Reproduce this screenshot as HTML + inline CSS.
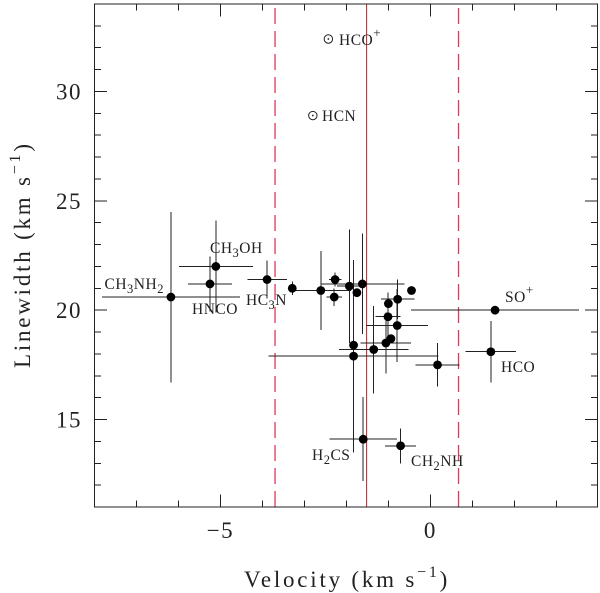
<!DOCTYPE html>
<html>
<head>
<meta charset="utf-8">
<style>
html,body{margin:0;padding:0;background:#fff;width:600px;height:593px;overflow:hidden}
svg{display:block}
text{font-family:"Liberation Serif",serif;fill:#222}
.lbl{font-size:15.5px;letter-spacing:.5px}
.tick{font-size:23px;letter-spacing:1.5px}
.title{font-size:23px;letter-spacing:2.78px}
</style>
</head>
<body>
<svg id="chart" width="600" height="593" viewBox="0 0 600 593" xmlns="http://www.w3.org/2000/svg">
  <g id="marks"></g>
  <g id="axes"></g>

  <text class="title" x="244" y="587">Velocity (km s<tspan dy="-10" font-size="16">−1</tspan><tspan dy="10">)</tspan></text>
  <text class="title" transform="translate(30,368) rotate(-90)" x="0" y="0">Linewidth (km s<tspan dy="-10" font-size="16">−1</tspan><tspan dy="10">)</tspan></text>

  <text class="lbl" x="104.5" y="289">CH<tspan dy="4" font-size="12.5">3</tspan><tspan dy="-4">NH</tspan><tspan dy="4" font-size="12.5">2</tspan></text>
  <text class="lbl" x="210" y="253">CH<tspan dy="4" font-size="12.5">3</tspan><tspan dy="-4">OH</tspan></text>
  <text class="lbl" x="192" y="314">HNCO</text>
  <text class="lbl" x="246" y="305">HC<tspan dy="4" font-size="12.5">3</tspan><tspan dy="-4">N</tspan></text>
  <text class="lbl" x="339" y="45">HCO<tspan dy="-8" font-size="13">+</tspan></text>
  <text class="lbl" x="322" y="121">HCN</text>
  <text class="lbl" x="505" y="302">SO<tspan dy="-8" font-size="13">+</tspan></text>
  <text class="lbl" x="501" y="372">HCO</text>
  <text class="lbl" x="312" y="460">H<tspan dy="4" font-size="12.5">2</tspan><tspan dy="-4">CS</tspan></text>
  <text class="lbl" x="411" y="466">CH<tspan dy="4" font-size="12.5">2</tspan><tspan dy="-4">NH</tspan></text>
</svg>
<script>
const velocity   = [-6.18,-5.25,-5.11,-3.89,-3.29,-2.61,-2.27,-2.29,-1.93,-1.75,-1.62,-1.83,-1.83,-1.35,-1.00,-1.01,-0.79,-0.78,-0.45,-0.94,-1.06,0.17,1.54,1.44,-1.60,-0.71];
const linewidth  = [20.6,21.2,22.0,21.4,21.0,20.9,21.4,20.6,21.1,20.8,21.2,18.4,17.9,18.2,20.3,19.7,19.3,20.5,20.9,18.7,18.5,17.5,20.0,18.1,14.1,13.8];
const velErr     = [1.64,0.52,0.88,0.47,0,0.72,0.15,0.19,0.3,0,1.0,0.1,2.02,0.83,0,0.3,0.73,0.4,0,0,0.6,0.52,2.0,0.6,0.8,0.37];
const widthErr   = [3.9,1.26,2.1,0.87,0.3,1.8,0.32,0.4,2.6,0,2.3,3.0,4.4,2.0,0,1.1,1.67,0.9,0,0,1.4,1.0,0,1.4,1.92,0.8];
const openVelocity  = [-2.8,-2.43];
const openLinewidth = [28.9,32.4];
const xMajorTicks = [-5,0];
const xMinorTicks = [-7,-6,-4,-3,-2,-1,1,2,3];
const yMajorTicks = [15,20,25,30];
const yMinorTicks = [12,13,14,16,17,18,19,21,22,23,24,26,27,28,29,31,32,33];
const systemicVelocity = [-1.52];
const boundaryVelocity = [-3.70,0.67];

const NS = 'http://www.w3.org/2000/svg';
const L = 94.5, R = 597.5, T = 4, B = 507;
const xMin = -8, xMax = 3.98, yMin = 11, yMax = 34;
function sx(v){ return L + (v - xMin) * (R - L) / (xMax - xMin); }
function sy(v){ return B - (v - yMin) * (B - T) / (yMax - yMin); }
const marks = document.getElementById('marks');
const axes = document.getElementById('axes');

function mk(parent, tag, attrs){
  const el = document.createElementNS(NS, tag);
  for (const k in attrs) el.setAttribute(k, attrs[k]);
  parent.appendChild(el);
  return el;
}
const ink = '#222';

systemicVelocity.forEach(function(v){
  const el = mk(marks, 'line', {x1:sx(v), x2:sx(v), y1:T, y2:B, stroke:'#c8323c', 'stroke-width':1.1});
  
  
});
boundaryVelocity.forEach(function(v){
  const el = mk(marks, 'line', {x1:sx(v), x2:sx(v), y1:B, y2:T, stroke:'#dc3a58', 'stroke-width':1.3, 'stroke-dasharray':'16 7'});
  
  
});

velocity.forEach(function(v, i){
  const w = linewidth[i];
  if (velErr[i] > 0) {
    const h = mk(marks, 'line', {x1:sx(v - velErr[i]), x2:sx(v + velErr[i]), y1:sy(w), y2:sy(w), stroke:ink, 'stroke-width':1, 'shape-rendering':'crispEdges'});
    
    
  }
  if (widthErr[i] > 0) {
    const e = mk(marks, 'line', {x1:sx(v), x2:sx(v), y1:sy(w - widthErr[i]), y2:sy(w + widthErr[i]), stroke:ink, 'stroke-width':1, 'shape-rendering':'crispEdges'});
    
    
  }
});
velocity.forEach(function(v, i){
  const c = mk(marks, 'circle', {cx:sx(v), cy:sy(linewidth[i]), r:4.4, fill:'#000'});
  
  
});
openVelocity.forEach(function(v, i){
  const c = mk(marks, 'circle', {cx:sx(v), cy:sy(openLinewidth[i]), r:4.2, fill:'none', stroke:ink, 'stroke-width':1});
  
  
  const d = mk(marks, 'circle', {cx:sx(v), cy:sy(openLinewidth[i]), r:0.9, fill:ink});
  
  
});

const frame = mk(axes, 'rect', {x:L, y:T, width:R-L, height:B-T, fill:'none', stroke:ink, 'stroke-width':1, 'shape-rendering':'crispEdges'});



function xTick(v, len){
  const a = mk(axes, 'line', {x1:sx(v), x2:sx(v), y1:B, y2:B-len, stroke:ink, 'stroke-width':1, 'shape-rendering':'crispEdges'});
  
  
  const b = mk(axes, 'line', {x1:sx(v), x2:sx(v), y1:T, y2:T+len, stroke:ink, 'stroke-width':1, 'shape-rendering':'crispEdges'});
  
  
}
function yTick(v, len){
  const a = mk(axes, 'line', {x1:L, x2:L+len, y1:sy(v), y2:sy(v), stroke:ink, 'stroke-width':1, 'shape-rendering':'crispEdges'});
  
  
  const b = mk(axes, 'line', {x1:R, x2:R-len, y1:sy(v), y2:sy(v), stroke:ink, 'stroke-width':1, 'shape-rendering':'crispEdges'});
  
  
}
xMinorTicks.forEach(function(v){ xTick(v, 6.5); });
yMinorTicks.forEach(function(v){ yTick(v, 6.5); });
xMajorTicks.forEach(function(v){
  xTick(v, 12.5);
  const t = mk(axes, 'text', {x:sx(v), y:538, 'text-anchor':'middle', class:'tick'});
  
  
  t.textContent = String(v).replace('-', '−');
});
yMajorTicks.forEach(function(v){
  yTick(v, 12.5);
  const t = mk(axes, 'text', {x:82, y:sy(v) + 8, 'text-anchor':'end', class:'tick'});
  
  
  t.textContent = String(v);
});
</script>
</body>
</html>
